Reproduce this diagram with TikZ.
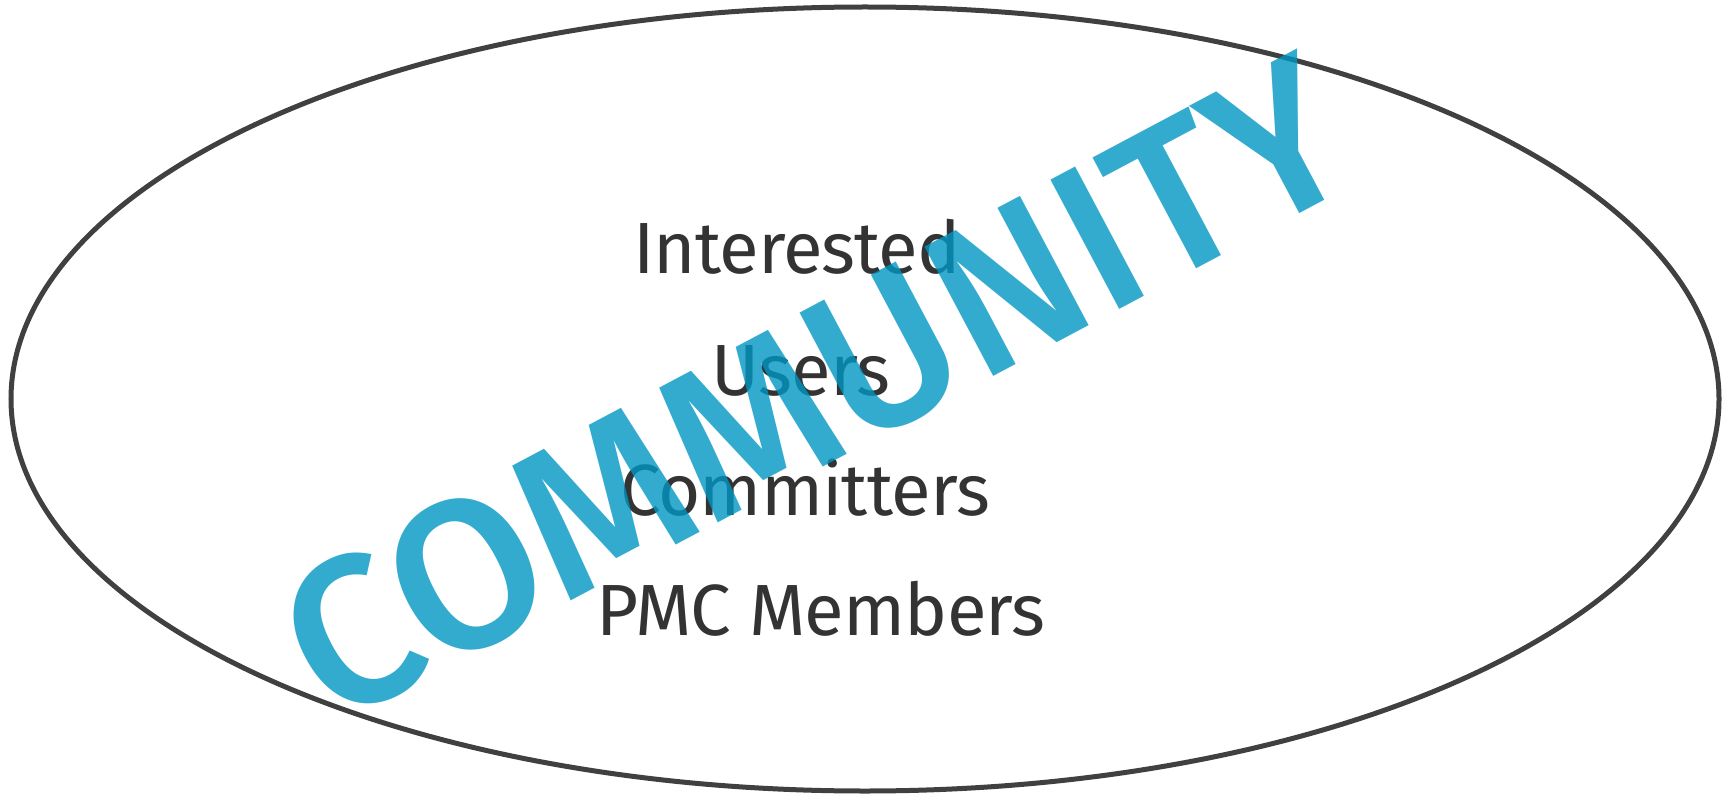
\documentclass[tikz,border=0pt]{standalone}
\usepackage{fontspec}
\setmainfont{Fira Sans}[LetterSpace=-1.2]
\newfontfamily\bannerfont{Fira Sans Medium}
\definecolor{ringgray}{HTML}{404040}
\definecolor{textgray}{HTML}{333333}
\definecolor{commblue}{RGB}{0,150,195}
\begin{document}
\begin{tikzpicture}[x=1pt,y=-1pt,
  label/.style={inner sep=0pt, anchor=base, text=textgray, font=\fontsize{72.5}{72.5}\selectfont},
  banner/.style={inner sep=0pt, anchor=base, rotate=28, text=commblue, text opacity=0.8, font=\bannerfont\fontsize{212}{212}\selectfont}]
\useasboundingbox (0,0) rectangle (1723,794);
\draw[ringgray, line width=5pt] (865,399) ellipse [x radius=854pt, y radius=392pt];
\node[label] (interested) at (797,273) {Interested};
\node[label] (users) at (801,395) {Users};
\node[label] (committers) at (805,515) {Committers};
\node[label] (pmc) at (821,635) {PMC Members};
\node[banner] (community) at (849,453) {COMMUNITY};
\end{tikzpicture}
\end{document}
